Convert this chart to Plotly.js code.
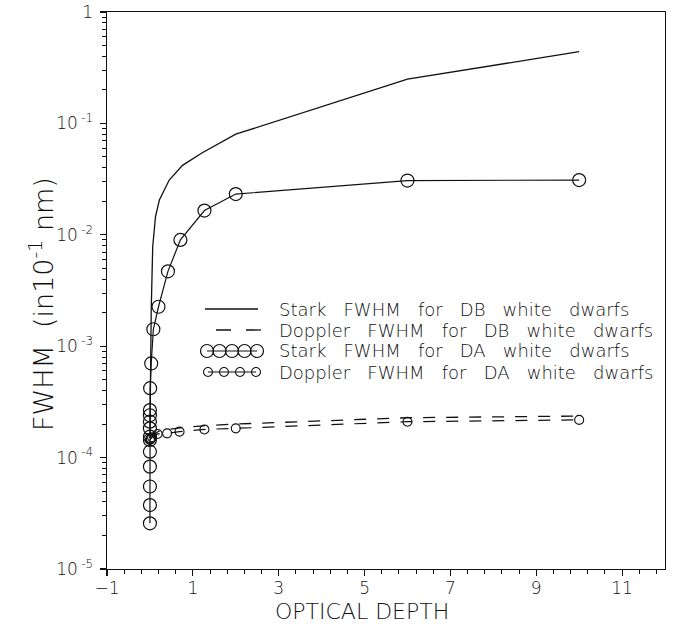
<!DOCTYPE html>
<html><head><meta charset="utf-8">
<script src="https://cdn.plot.ly/plotly-3.0.1.min.js"></script>
<style>html,body{margin:0;padding:0;background:#fff}#chart{width:679px;height:627px}</style>
</head><body><div id="chart"></div>
<script>
// ---------- data ----------
const seriesNames = ["Stark FWHM for DB white dwarfs", "Doppler FWHM for DB white dwarfs",
                     "Stark FWHM for DA white dwarfs", "Doppler FWHM for DA white dwarfs"];

const tauStarkDB = [0, 0.01, 0.03, 0.065, 0.13, 0.22, 0.45, 0.76, 1.2, 2, 6, 10];
const starkDB    = [1.5e-4, 6e-4, 2.1e-3, 7.8e-3, 1.46e-2, 2.05e-2, 3.1e-2, 4.2e-2, 5.4e-2, 8.0e-2, 0.25, 0.44];

const tauDopplerDB = [0, 0.2, 0.4, 0.7, 1.25, 2, 6, 10];
const dopplerDB    = [1.5e-4, 1.72e-4, 1.78e-4, 1.85e-4, 1.93e-4, 2.0e-4, 2.28e-4, 2.36e-4];

const tauStarkDA = [0, 0, 0, 0, 0, 0, 0, 0, 0, 0, 0, 0.005, 0.03, 0.08, 0.2, 0.42, 0.71, 1.27, 2, 6, 10];
const starkDA    = [2.57e-5, 3.75e-5, 5.5e-5, 8.3e-5, 1.13e-4, 1.44e-4, 1.54e-4, 1.83e-4, 2.1e-4, 2.4e-4, 2.67e-4,
                    4.2e-4, 7.0e-4, 1.42e-3, 2.26e-3, 4.7e-3, 9.0e-3, 1.65e-2, 2.32e-2, 3.07e-2, 3.1e-2];

const tauDopplerDA = [0, 0.01, 0.02, 0.05, 0.18, 0.4, 0.69, 1.27, 2, 6, 10];
const dopplerDA    = [1.44e-4, 1.46e-4, 1.48e-4, 1.52e-4, 1.63e-4, 1.65e-4, 1.71e-4, 1.79e-4, 1.83e-4, 2.1e-4, 2.18e-4];

const yTickVals = [1e-5, 1e-4, 1e-3, 1e-2, 1e-1, 1];
const yTickText = ["10\u2009<sup>-5</sup>", "10\u2009<sup>-4</sup>", "10\u2009<sup>-3</sup>",
                   "10\u2009<sup>-2</sup>", "10\u2009<sup>-1</sup>", "1"];
const xTitle = "OPTICAL DEPTH";
const yTitle = "FWHM\u00a0\u00a0(in10<sup>-1</sup>\u00a0nm)";

// ---------- layout geometry ----------
const W = 679, H = 627;
const M = {l: 107, r: 14, t: 12, b: 58};
const pw = W - M.l - M.r, ph = H - M.t - M.b;
const px = x => (x - M.l) / pw;
const py = y => 1 - (y - M.t) / ph;
const FONT = "DejaVu Sans, Liberation Sans, sans-serif";
const INK = "#111";
const WGT = 300;

// minor log ticks 2..9 per decade
const yMinor = [];
for (let e = -5; e < 0; e++) for (let k = 2; k <= 9; k++) yMinor.push(k * Math.pow(10, e));

const traces = [
  {x: tauStarkDB, y: starkDB, mode: "lines", line: {color: INK, width: 1.3}, name: seriesNames[0]},
  {x: tauDopplerDB, y: dopplerDB, mode: "lines", line: {color: INK, width: 1.3, dash: "12px,11px"}, name: seriesNames[1]},
  {x: tauStarkDA, y: starkDA, mode: "lines+markers", line: {color: INK, width: 1.2},
   marker: {symbol: "circle-open", size: 13, color: INK, line: {width: 1.2, color: INK}}, name: seriesNames[2]},
  {x: tauDopplerDA, y: dopplerDA, mode: "lines+markers", line: {color: INK, width: 1.2, dash: "12px,11px"},
   marker: {symbol: "circle-open", size: 9, color: INK, line: {width: 1.1, color: INK}}, name: seriesNames[3]}
];

// ---------- hand-drawn legend (samples on an overlay axis in plot-fraction units) ----------
const legRows = [309, 330, 351, 372];
const legTextX = 277;
function spread(a, b, n) { const out = []; for (let i = 0; i < n; i++) out.push(px(a + (b - a) * i / (n - 1))); return out; }
traces.push({x: [px(205), px(258)], y: [py(legRows[0]), py(legRows[0])], xaxis: "x2", yaxis: "y2",
  mode: "lines", line: {color: INK, width: 1.3}, hoverinfo: "skip"});
traces.push({x: [px(216), px(261)], y: [py(legRows[1]), py(legRows[1])], xaxis: "x2", yaxis: "y2",
  mode: "lines", line: {color: INK, width: 1.3, dash: "15px,15px"}, hoverinfo: "skip"});
traces.push({x: spread(207, 257, 5), y: Array(5).fill(py(legRows[2])), xaxis: "x2", yaxis: "y2",
  mode: "lines+markers", line: {color: INK, width: 1.2},
  marker: {symbol: "circle-open", size: 13, color: INK, line: {width: 1.2, color: INK}}, hoverinfo: "skip"});
traces.push({x: spread(208, 256, 4), y: Array(4).fill(py(legRows[3])), xaxis: "x2", yaxis: "y2",
  mode: "lines+markers", line: {color: INK, width: 1.1},
  marker: {symbol: "circle-open", size: 9, color: INK, line: {width: 1.1, color: INK}}, hoverinfo: "skip"});

const gap = "\u00a0\u00a0\u00a0";
const annotations = seriesNames.map((s, i) => ({
  text: s.split(" ").join(gap), xref: "paper", yref: "paper",
  x: px(legTextX), y: py(legRows[i]), xanchor: "left", yanchor: "middle", showarrow: false,
  font: {family: FONT, size: 18, color: INK, weight: WGT}
}));
annotations.push({text: xTitle, xref: "paper", yref: "paper", x: px(362), y: py(611),
  xanchor: "center", yanchor: "middle", showarrow: false, font: {family: FONT, size: 22, color: INK, weight: WGT}});
annotations.push({text: yTitle, xref: "paper", yref: "paper", x: px(41), y: py(304), textangle: -90,
  xanchor: "center", yanchor: "middle", showarrow: false, font: {family: FONT, size: 27, color: INK, weight: WGT}});

const axisBase = {showline: true, linecolor: INK, linewidth: 1.4, mirror: true, showgrid: false,
  zeroline: false, ticks: "outside", tickcolor: INK, tickwidth: 1.1, ticklen: 6,
  tickfont: {family: FONT, size: 17, color: INK, weight: WGT}};

const layout = {
  width: W, height: H, margin: M, paper_bgcolor: "#fff", plot_bgcolor: "#fff", showlegend: false,
  xaxis: Object.assign({}, axisBase, {range: [-1, 12], tick0: -1, dtick: 2, ticklabelstandoff: -3,
    minor: {tick0: -1, dtick: 0.4, ticks: "outside", ticklen: 4, tickcolor: INK, tickwidth: 1}}),
  yaxis: Object.assign({}, axisBase, {type: "log", range: [-5, 0], tickmode: "array",
    tickvals: yTickVals, ticktext: yTickText, ticklabelstandoff: 3,
    minor: {tickvals: yMinor, ticks: "outside", ticklen: 4, tickcolor: INK, tickwidth: 1}}),
  xaxis2: {overlaying: "x", range: [0, 1], visible: false, fixedrange: true},
  yaxis2: {overlaying: "y", range: [0, 1], visible: false, fixedrange: true},
  annotations: annotations
};

Plotly.newPlot("chart", traces, layout, {staticPlot: true});
</script></body></html>
